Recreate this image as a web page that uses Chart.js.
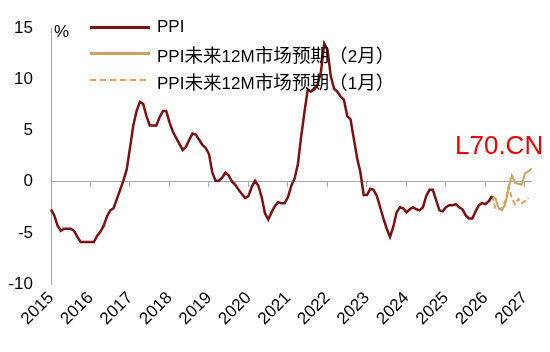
<!DOCTYPE html>
<html>
<head>
<meta charset="utf-8">
<script src="https://cdn.jsdelivr.net/npm/chart.js@4.4.1/dist/chart.umd.min.js"></script>
<style>
  body { margin: 0; background: #fff; }
  #wrap { position: relative; width: 550px; height: 352px; font-family: 'Liberation Sans', Arial, 'Noto Sans CJK SC', sans-serif; color: #000; }
  #legend { position: absolute; left: 90px; top: 14px; font-size: 17px; }
  .row { display: flex; align-items: center; height: 26.6px; white-space: nowrap; }
  .swatch { width: 60px; height: 2px; margin-right: 7px; }
  .cjk { font-family: 'Noto Sans CJK SC', sans-serif; font-size: 18.6px; }
  #unit { position: absolute; left: 54px; top: 22px; font-size: 17px; }
  #tag { position: absolute; left: 455px; top: 132px; font-size: 26px; line-height: 1; color: #e60000; }
</style>
</head>
<body>
<div id="wrap">
  <canvas id="ppiChart"></canvas>
  <div id="unit">%</div>
  <div id="legend"></div>
  <div id="tag">L70.CN</div>
</div>
<script>
// monthly data, first point = 2014-11
const startYear = 2014;
const startMonth = 11;
const years = ['2015', '2016', '2017', '2018', '2019', '2020', '2021', '2022', '2023', '2024', '2025', '2026', '2027'];

const ppi = [
  -2.7, -3.3,
  -4.3, -4.8, -4.6, -4.6, -4.6, -4.8, -5.4, -5.9, -5.9, -5.9, -5.9, -5.9,
  -5.3, -4.9, -4.3, -3.4, -2.8, -2.6, -1.7, -0.8, 0.1, 1.2, 3.3, 5.5,
  6.9, 7.8, 7.6, 6.4, 5.5, 5.5, 5.5, 6.3, 6.9, 6.9, 5.8, 4.9,
  4.3, 3.7, 3.1, 3.4, 4.1, 4.7, 4.6, 4.1, 3.6, 3.3, 2.7, 0.9,
  0.1, 0.1, 0.4, 0.9, 0.6, 0.0, -0.3, -0.8, -1.2, -1.6, -1.4, -0.5,
  0.1, -0.4, -1.5, -3.1, -3.7, -3.0, -2.4, -2.0, -2.1, -2.1, -1.5, -0.4,
  0.3, 1.7, 4.4, 6.8, 9.0, 8.8, 9.0, 9.5, 10.7, 13.5, 12.9, 10.3,
  9.1, 8.8, 8.3, 8.0, 6.4, 6.1, 4.2, 2.3, 0.9, -1.3, -1.3, -0.7,
  -0.8, -1.4, -2.5, -3.6, -4.6, -5.4, -4.4, -3.0, -2.5, -2.6, -3.0, -2.7,
  -2.5, -2.7, -2.8, -2.5, -1.4, -0.8, -0.8, -1.8, -2.8, -2.9, -2.5, -2.3,
  -2.3, -2.2, -2.5, -2.7, -3.3, -3.6, -3.6, -2.9, -2.3, -2.1, -2.2, -1.9,
  -1.4
];

// forecasts start at 2026-01 (joined to last PPI point)
const forecastStart = 134;
const febForecast = [-1.4, -1.6, -2.6, -2.8, -2.2, -0.7, 0.6, -0.1, -0.2, -0.3, 0.8, 1.0, 1.3];
const janForecast = [-1.4, -2.6, -2.7, -2.6, -1.9, -0.5, -1.6, -2.2, -1.7, -2.1, -1.9, -1.6];

const gray = '#a6a6a6';
const colors = { ppi: '#7b1113', feb: '#c9a463', jan: '#ec9a5e' };

const total = forecastStart + febForecast.length;
const months = [];
for (let i = 0; i < total; i++) {
  const m = startMonth - 1 + i;
  months.push(`${startYear + Math.floor(m / 12)}-${String(m % 12 + 1).padStart(2, '0')}`);
}
const pad = n => Array(n).fill(null);

Chart.defaults.font.family = "'Liberation Sans', Arial, sans-serif";
Chart.defaults.font.size = 17;
Chart.defaults.color = '#000';

new Chart(document.getElementById('ppiChart'), {
  type: 'line',
  data: {
    labels: months,
    datasets: [
      { label: 'PPI', data: ppi, borderColor: colors.ppi, borderWidth: 2.5, pointRadius: 0, tension: 0 },
      { label: 'PPI未来12M市场预期（2月）', data: pad(forecastStart).concat(febForecast), borderColor: colors.feb, borderWidth: 2, pointRadius: 0, tension: 0 },
      { label: 'PPI未来12M市场预期（1月）', data: pad(forecastStart).concat(janForecast), borderColor: colors.jan, borderWidth: 2, borderDash: [5, 3], pointRadius: 0, tension: 0 }
    ]
  },
  options: {
    responsive: true,
    maintainAspectRatio: false,
    animation: false,
    layout: { padding: { top: 24, right: 12, left: 0, bottom: 0 } },
    plugins: { legend: { display: false }, tooltip: { enabled: false } },
    scales: {
      x: {
        type: 'category',
        position: { y: 0 },
        grid: {
          display: true,
          drawOnChartArea: false,
          drawTicks: true,
          tickLength: 5,
          tickColor: ctx => ctx.index % 12 === 0 ? gray : 'transparent'
        },
        border: { color: gray, width: 1 },
        ticks: { display: false, autoSkip: false }
      },
      x2: {
        type: 'category',
        position: 'bottom',
        grid: { display: false, drawTicks: false },
        border: { display: false },
        ticks: {
          autoSkip: false,
          minRotation: 45,
          maxRotation: 45,
          padding: 4,
          callback: (v, i) => i % 12 === 0 ? years[i / 12] : ''
        },
        afterFit: s => { s.height = 68; }
      },
      y: {
        min: -10,
        max: 15,
        ticks: { stepSize: 5, padding: 18 },
        grid: { drawOnChartArea: false, drawTicks: false },
        border: { color: gray, width: 1 },
        afterFit: s => { s.width = 51; }
      }
    }
  }
});

// legend (CJK runs a little wider, as in the source)
const legendItems = [
  { text: 'PPI', bg: colors.ppi, h: 3 },
  { text: 'PPI<span class="cjk">未来</span>12M<span class="cjk">市场预期（</span>2<span class="cjk">月）</span>', bg: colors.feb, h: 3 },
  { text: 'PPI<span class="cjk">未来</span>12M<span class="cjk">市场预期（</span>1<span class="cjk">月）</span>', bg: `repeating-linear-gradient(90deg, ${colors.jan} 0 6px, transparent 6px 10px)`, h: 2 }
];
const legendEl = document.getElementById('legend');
for (let item of legendItems) {
  const row = document.createElement('div');
  row.className = 'row';
  row.innerHTML = `<span class="swatch" style="background:${item.bg};height:${item.h}px"></span><span>${item.text}</span>`;
  legendEl.appendChild(row);
}
</script>
</body>
</html>
